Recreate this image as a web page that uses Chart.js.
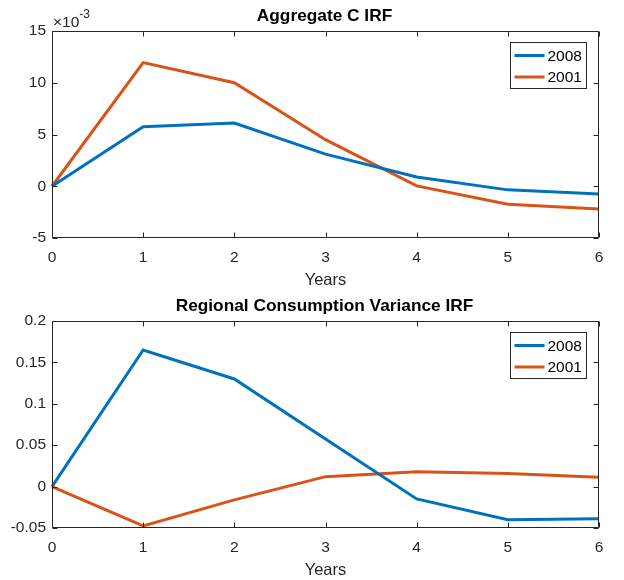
<!DOCTYPE html>
<html>
<head>
<meta charset="utf-8">
<script src="https://cdn.jsdelivr.net/npm/chart.js@4/dist/chart.umd.min.js"></script>
<style>
  body { margin: 0; background: #fff; }
  .box { width: 624px; height: 290px; position: relative; }
</style>
</head>
<body>
<div class="box"><canvas id="aggChart"></canvas></div>
<div class="box"><canvas id="varChart"></canvas></div>
<script>
// data
const years = [0, 1, 2, 3, 4, 5, 6];
const seriesNames = ['2008', '2001'];

const aggC2008 = [0, 0.00575, 0.0061, 0.0031, 0.0009, -0.00035, -0.00074];
const aggC2001 = [0, 0.01195, 0.0100, 0.0045, 0.00003, -0.00173, -0.0022];
const aggTicks = [-0.005, 0, 0.005, 0.01, 0.015];

const var2008 = [0, 0.165, 0.130, 0.0576, -0.0149, -0.0400, -0.0387];
const var2001 = [0, -0.0475, -0.0160, 0.0120, 0.0180, 0.0157, 0.0112];
const varTicks = [-0.05, 0, 0.05, 0.1, 0.15, 0.2];

const BLUE = '#0072BD';
const ORANGE = '#D95319';
const INK = '#262626';
const FONT = 'Liberation Sans, Arial, Helvetica, sans-serif';

// title over the axes, box round them, inward ticks on all four sides, legend inside
const matlabAxes = {
  id: 'matlabAxes',
  afterDraw(chart, args, opts) {
    const { ctx, chartArea: a, scales: { x, y } } = chart;
    const L = Math.round(a.left) + 0.5, R = Math.round(a.right) - 0.5;
    const T = Math.round(a.top) + 0.5, B = Math.round(a.bottom) - 0.5;
    const tl = 5;
    ctx.save();

    ctx.fillStyle = '#000';
    ctx.font = 'bold 17.3px ' + FONT;
    ctx.textAlign = 'center';
    ctx.textBaseline = 'middle';
    ctx.fillText(opts.title, (a.left + a.right) / 2 - 1, 16);

    ctx.strokeStyle = INK;
    ctx.lineWidth = 1;
    ctx.beginPath();
    ctx.rect(L, T, R - L, B - T);
    x.ticks.forEach((t, i) => {
      const px = Math.round(x.getPixelForTick(i)) + 0.5;
      ctx.moveTo(px, B); ctx.lineTo(px, B - tl);
      ctx.moveTo(px, T); ctx.lineTo(px, T + tl);
    });
    y.ticks.forEach(t => {
      const py = Math.round(y.getPixelForValue(t.value)) + 0.5;
      ctx.moveTo(L, py); ctx.lineTo(L + tl, py);
      ctx.moveTo(R, py); ctx.lineTo(R - tl, py);
    });
    ctx.stroke();

    // exponent label
    if (opts.exponent) {
      ctx.fillStyle = INK;
      ctx.textBaseline = 'alphabetic';
      ctx.textAlign = 'left';
      ctx.font = '15.5px ' + FONT;
      ctx.fillText('\u00d710', a.left + 1, a.top - 4);
      const w = ctx.measureText('\u00d710').width;
      ctx.font = '12px ' + FONT;
      ctx.fillText(opts.exponent, a.left + 1 + w, a.top - 13);
    }

    // legend box
    const bw = 76, bh = 46;
    const bx = Math.round(a.right - 89) + 0.5, by = Math.round(a.top + 11) + 0.5;
    ctx.fillStyle = '#fff';
    ctx.fillRect(bx, by, bw, bh);
    ctx.strokeStyle = INK;
    ctx.lineWidth = 1;
    ctx.strokeRect(bx, by, bw, bh);
    ctx.font = '15.5px ' + FONT;
    ctx.textAlign = 'left';
    ctx.textBaseline = 'middle';
    chart.data.datasets.forEach((ds, i) => {
      const ly = by + 13 + i * 21.5;
      ctx.strokeStyle = ds.borderColor;
      ctx.lineWidth = 3;
      ctx.beginPath();
      ctx.moveTo(bx + 4, ly);
      ctx.lineTo(bx + 34, ly);
      ctx.stroke();
      ctx.fillStyle = '#000';
      ctx.fillText(ds.label, bx + 37, ly + 1);
    });
    ctx.restore();
  }
};

function fmt(v) {
  return String(parseFloat(v.toFixed(6)));
}

function makeChart(id, title, s1, s2, tickVals, tickFmt, exponent) {
  return new Chart(document.getElementById(id), {
    type: 'line',
    data: {
      labels: years,
      datasets: [
        { label: seriesNames[0], data: s1, borderColor: BLUE, borderWidth: 3, pointRadius: 0, tension: 0 },
        { label: seriesNames[1], data: s2, borderColor: ORANGE, borderWidth: 3, pointRadius: 0, tension: 0 }
      ]
    },
    options: {
      responsive: true,
      maintainAspectRatio: false,
      animation: false,
      layout: { padding: { left: 0, right: 25, top: 31, bottom: 0 } },
      plugins: {
        legend: { display: false },
        tooltip: { enabled: false },
        title: { display: false },
        matlabAxes: { exponent: exponent, title: title }
      },
      scales: {
        x: {
          offset: false,
          grid: { display: false, drawTicks: false },
          border: { display: false },
          ticks: { color: INK, padding: 10, maxRotation: 0, font: { family: FONT, size: 15.5 } },
          title: {
            display: true,
            text: 'Years',
            color: INK,
            font: { family: FONT, size: 16.5 },
            padding: { top: 0, bottom: 0 }
          },
          afterFit(scale) { scale.height = 52; }
        },
        y: {
          min: tickVals[0],
          max: tickVals[tickVals.length - 1],
          grid: { display: false, drawTicks: false },
          border: { display: false },
          afterBuildTicks(scale) { scale.ticks = tickVals.map(v => ({ value: v })); },
          ticks: {
            color: INK,
            padding: 6,
            font: { family: FONT, size: 15.5 },
            callback: tickFmt
          },
          afterFit(scale) { scale.width = 52; }
        }
      }
    },
    plugins: [matlabAxes]
  });
}

makeChart('aggChart', 'Aggregate C IRF', aggC2008, aggC2001, aggTicks,
  v => fmt(v * 1000), '-3');
makeChart('varChart', 'Regional Consumption Variance IRF', var2008, var2001, varTicks,
  v => fmt(v), null);
</script>
</body>
</html>
